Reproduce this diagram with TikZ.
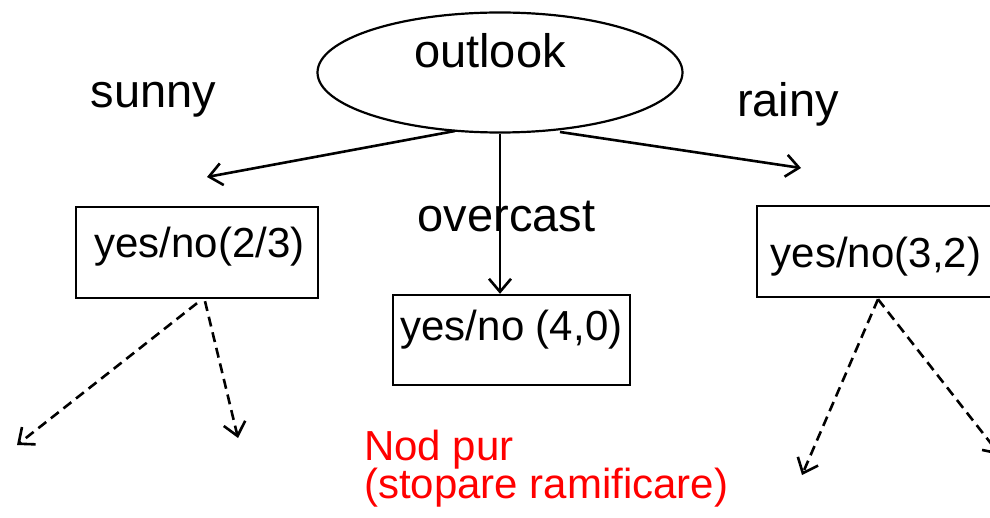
\documentclass[tikz,border=0pt]{standalone}
\usepackage{fontspec}
\setmainfont{Liberation Sans}
\usetikzlibrary{arrows.meta,shapes.geometric}
\begin{document}
\begin{tikzpicture}[x=1pt,y=-1pt,
  big/.style={font=\fontsize{47}{56}\selectfont, inner sep=0pt, anchor=base},
  boxtext/.style={font=\fontsize{42}{50}\selectfont, inner sep=0pt, anchor=base},
  redtext/.style={font=\fontsize{42}{50}\selectfont, inner sep=0pt, anchor=base west, text=red},
  leaf/.style={draw, line width=2.4pt, inner sep=0pt},
  conn/.style={line width=2.6pt, -{Straight Barb[length=13pt,width=22pt]}},
  dconn/.style={conn, dash pattern=on 10pt off 6pt}]
\useasboundingbox (0,0) rectangle (990,518);

% root
\node[ellipse, draw, line width=2.2pt, minimum width=365pt, minimum height=120pt, inner sep=0pt] (ell) at (500,72.5) {};
\node[big] (tout) at (490,68) {outlook};

% boxes
\node[leaf, minimum width=242pt, minimum height=91pt] (b1) at (197,252.5) {};
\node[leaf, minimum width=237pt, minimum height=90pt] (b2) at (511.5,340) {};
\node[leaf, minimum width=240pt, minimum height=91pt] (b3) at (877,251.5) {};
\node[boxtext] (t1) at (199.5,258) {yes/no(2/3)};
\node[boxtext] (t2) at (511.5,341) {yes/no (4,0)};
\node[boxtext] (t3) at (876,268) {yes/no(3,2)};

% branch labels
\node[big] (lsun) at (153.5,108) {sunny};
\node[big] (lrain) at (788,117) {rainy};
\node[big] (lover) at (506.5,232) {overcast};

% red note
\node[redtext] (n1) at (364,460) {Nod pur};
\node[redtext] (n2) at (364,498) {(stopare ramificare)};

% free ends
\coordinate (s1) at (455,131);
\coordinate (e1) at (207,177);
\coordinate (s3) at (560,132);
\coordinate (e3) at (801,168);
\coordinate (d1) at (17,445);
\coordinate (d2) at (238,438);
\coordinate (d3) at (802,475);
\coordinate (d4) at (1000,455);

% solid connectors
\draw[conn] (s1) -- (e1);
\draw[conn] (ell.south) -- (ell.south |- b2.north);
\draw[conn] (s3) -- (e3);

% dashed connectors
\draw[dconn] ([xshift=0pt,yshift=-4pt]b1.south) -- (d1);
\draw[dconn] ([xshift=8pt,yshift=-2pt]b1.south) -- (d2);
\draw[dconn] ([xshift=1pt,yshift=-1pt]b3.south) -- (d3);
\draw[dconn] ([xshift=1pt,yshift=-1pt]b3.south) -- (d4);
\end{tikzpicture}
\end{document}
